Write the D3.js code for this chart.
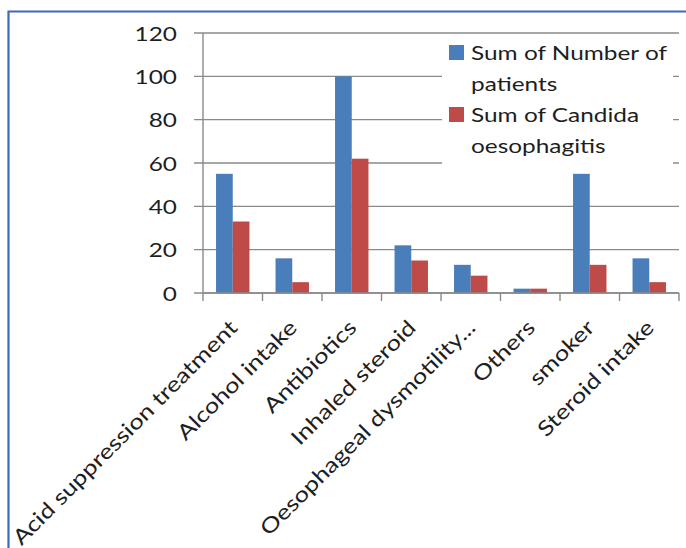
<!DOCTYPE html>
<html>
<head>
<meta charset="utf-8">
<script src="https://cdn.jsdelivr.net/npm/d3@7/dist/d3.min.js"></script>
<style>
  html, body { margin: 0; padding: 0; background: #ffffff; }
  svg { display: block; }
  text { font-family: Lato, "Open Sans", sans-serif; fill: #1e1e1e; }
</style>
</head>
<body>
<svg id="chart" width="686" height="548"></svg>
<script>
// Risk factors and the two summed series
const categories = [
  "Acid suppression treatment",
  "Alcohol intake",
  "Antibiotics",
  "Inhaled steroid",
  "Oesophageal dysmotility...",
  "Others",
  "smoker",
  "Steroid intake"
];
const patients = [55, 16, 100, 22, 13, 2, 55, 16];
const candida  = [33, 5, 62, 15, 8, 2, 13, 5];
const yTicks = [0, 20, 40, 60, 80, 100, 120];
const seriesKeys = ["patients", "candida"];
const legendLines = [["Sum of Number of", "patients"], ["Sum of Candida", "oesophagitis"]];
const colors = { patients: "#4a7ebb", candida: "#be4b48" };

const W = 686, H = 548;
const plot = { left: 203, right: 679, top: 33, bottom: 293 };
const sx = 1.22; // horizontal text stretch

const svg = d3.select("#chart");

const x0 = d3.scaleBand().domain(categories).range([plot.left, plot.right]).padding(0);
const x1 = d3.scaleBand().domain(seriesKeys).range([0, x0.bandwidth()]).paddingInner(0).paddingOuter(0.78);
const y = d3.scaleLinear().domain([0, 120]).range([plot.bottom, plot.top]);

// outer frame (left and top edges)
svg.append("path")
  .attr("d", `M8.5,${H} L8.5,11.5 L${W},11.5`)
  .attr("fill", "none")
  .attr("stroke", "#4169b8")
  .attr("stroke-width", 2.2);

// gridlines with left tick marks
const grid = svg.append("g");
grid.selectAll("line.grid")
  .data(yTicks)
  .join("line")
  .attr("class", "grid")
  .attr("x1", plot.left - 9)
  .attr("x2", plot.right)
  .attr("y1", d => y(d))
  .attr("y2", d => y(d))
  .attr("stroke", "#8a8a8a")
  .attr("stroke-width", 1.4);

// y tick labels
svg.append("g").selectAll("text")
  .data(yTicks)
  .join("text")
  .attr("transform", d => `translate(177,${y(d)}) scale(${sx},1)`)
  .attr("text-anchor", "end")
  .attr("dominant-baseline", "central")
  .attr("font-size", 20)
  .text(d => d);

// y axis line
svg.append("line")
  .attr("x1", plot.left).attr("x2", plot.left)
  .attr("y1", plot.top).attr("y2", plot.bottom)
  .attr("stroke", "#8a8a8a").attr("stroke-width", 1.4);

// bars
const rows = categories.map((c, i) => ({ cat: c, patients: patients[i], candida: candida[i] }));
const groups = svg.append("g").selectAll("g")
  .data(rows)
  .join("g")
  .attr("transform", d => `translate(${x0(d.cat)},0)`);
groups.selectAll("rect")
  .data(d => seriesKeys.map(k => ({ key: k, value: d[k] })))
  .join("rect")
  .attr("x", d => x1(d.key))
  .attr("width", x1.bandwidth())
  .attr("y", d => y(d.value))
  .attr("height", d => y(0) - y(d.value))
  .attr("fill", d => colors[d.key]);

// x axis line and category tick marks
svg.append("line")
  .attr("x1", plot.left).attr("x2", plot.right)
  .attr("y1", plot.bottom).attr("y2", plot.bottom)
  .attr("stroke", "#8a8a8a").attr("stroke-width", 1.4);
const bounds = categories.map(c => x0(c)).concat([plot.right]);
svg.append("g").selectAll("line")
  .data(bounds)
  .join("line")
  .attr("x1", d => d).attr("x2", d => d)
  .attr("y1", plot.bottom).attr("y2", plot.bottom + 8)
  .attr("stroke", "#8a8a8a").attr("stroke-width", 1.4);

// rotated category labels
svg.append("g").selectAll("text")
  .data(categories)
  .join("text")
  .attr("transform", d => `translate(${x0(d) + x0.bandwidth() / 2 + 6},${plot.bottom + 36}) rotate(-45) scale(${sx},1)`)
  .attr("text-anchor", "end")
  .attr("font-size", 21)
  .text(d => d);

// legend
const legend = svg.append("g");
legend.append("rect")
  .attr("x", 442).attr("y", 38).attr("width", 231).attr("height", 128)
  .attr("fill", "#ffffff");
legendLines.forEach((lines, i) => {
  const top = 45 + i * 62;
  legend.append("rect")
    .attr("x", 449).attr("y", top).attr("width", 15).attr("height", 15)
    .attr("fill", colors[seriesKeys[i]]);
  lines.forEach((t, j) => {
    legend.append("text")
      .attr("transform", `translate(471,${top + 15 + j * 31}) scale(${sx},1)`)
      .attr("font-size", 20)
      .text(t);
  });
});
</script>
</body>
</html>
